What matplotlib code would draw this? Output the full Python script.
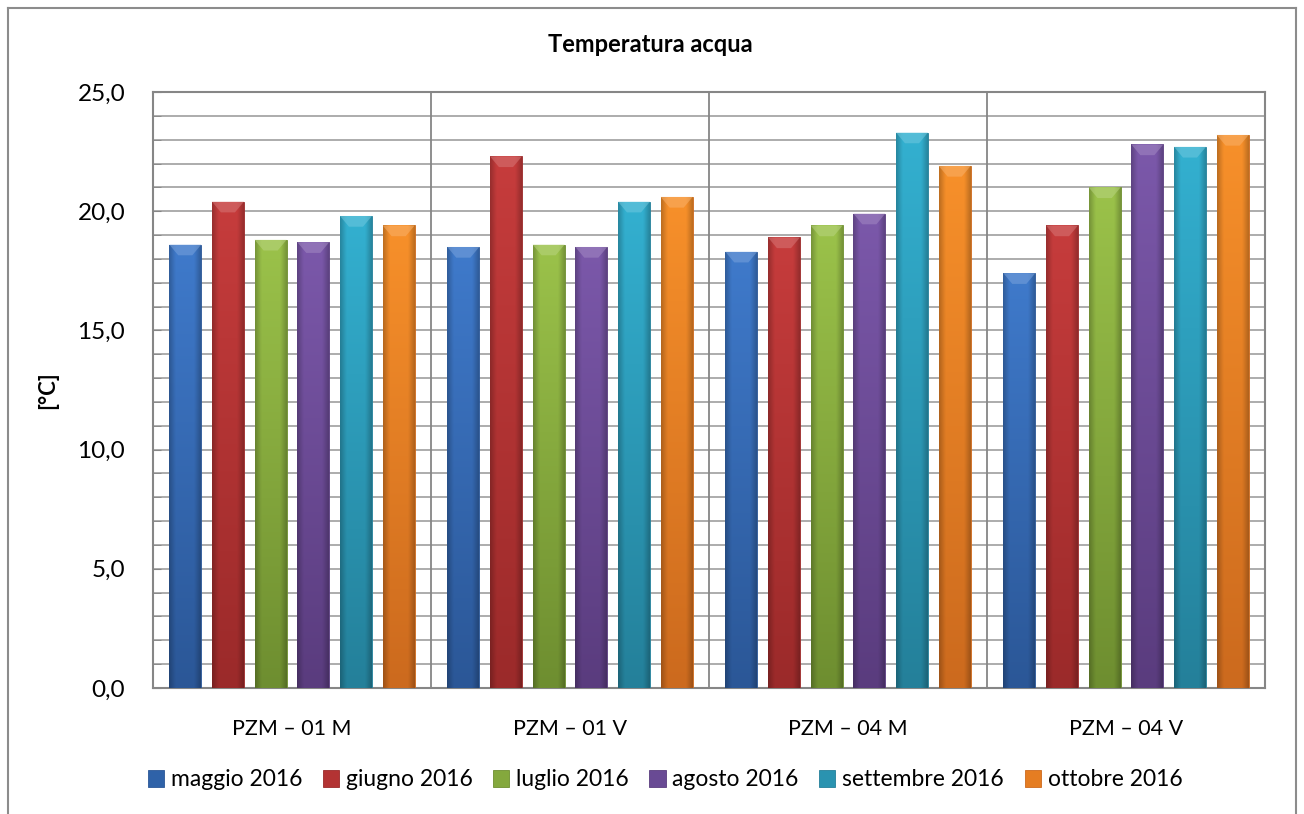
import numpy as np
import matplotlib.pyplot as plt
from matplotlib.patches import Patch, Polygon
from matplotlib.lines import Line2D
from matplotlib.ticker import MultipleLocator, FuncFormatter
from matplotlib.colors import to_rgb

plt.rcParams['font.family'] = ['Lato', 'DejaVu Sans']

# --- data ---
stations = ["PZM – 01 M", "PZM – 01 V", "PZM – 04 M", "PZM – 04 V"]
months = ["maggio 2016", "giugno 2016", "luglio 2016",
          "agosto 2016", "settembre 2016", "ottobre 2016"]

maggio = [18.6, 18.5, 18.3, 17.4]
giugno = [20.4, 22.3, 18.9, 19.4]
luglio = [18.8, 18.6, 19.4, 21.0]
agosto = [18.7, 18.5, 19.9, 22.8]
settembre = [19.8, 20.4, 23.3, 22.7]
ottobre = [19.4, 20.6, 21.9, 23.2]
series = [maggio, giugno, luglio, agosto, settembre, ottobre]

# top / bottom shades of each series for the bevelled look
top_cols = ["#3F7ACB", "#C63C3C", "#9BC24A", "#7B58AA", "#33B0D0", "#F7902A"]
bot_cols = ["#2B5797", "#9B2A2A", "#6E8E30", "#5A3C7E", "#24809A", "#CC6A1E"]
legend_cols = ["#2F62A8", "#B33333", "#84A83D", "#694A94", "#2A93B0", "#E57D22"]

GRID = "#A6A6A6"
AXIS = "#868686"

fig = plt.figure(figsize=(13.04, 8.14), dpi=100)
ax = fig.add_axes([0.1173, 0.1548, 0.8528, 0.7322])

x = np.arange(len(stations))
width = 0.115
pitch = 0.1535


def bar_image(c_top, c_bot, n=80, m=24):
    t = np.array(to_rgb(c_top))
    b = np.array(to_rgb(c_bot))
    v = np.linspace(0, 1, n)[:, None]
    col = t[None, :] * (1 - v) + b[None, :] * v
    u = np.linspace(-1, 1, m)
    edge = 1 - 0.22 * np.clip((np.abs(u) - 0.6) / 0.4, 0, 1)
    img = col[:, None, :] * edge[None, :, None]
    return np.clip(img, 0, 1)


for i, vals in enumerate(series):
    bars = ax.bar(x + (i - 2.5) * pitch, vals, width,
                  color=legend_cols[i], edgecolor=bot_cols[i], linewidth=0.6,
                  zorder=3)
    img = bar_image(top_cols[i], bot_cols[i])
    for b in bars:
        bx, bw, bh = b.get_x(), b.get_width(), b.get_height()
        im = ax.imshow(img, extent=(bx, bx + bw, 0, bh), aspect='auto',
                       origin='upper', zorder=3.5, interpolation='bilinear')
        im.set_clip_path(b)
        # light bevel on the bar top
        d = 0.45
        lt = np.array(to_rgb(top_cols[i]))
        lt = lt + (1 - lt) * 0.3
        ax.add_patch(Polygon([(bx, bh), (bx + bw, bh),
                              (bx + bw * 0.72, bh - d), (bx + bw * 0.28, bh - d)],
                             closed=True, facecolor=lt, edgecolor='none',
                             alpha=0.55, zorder=4))

ax.set_xlim(-0.5, 3.5)
ax.set_ylim(0, 25)

ax.yaxis.set_major_locator(MultipleLocator(5))
ax.yaxis.set_minor_locator(MultipleLocator(1))
ax.yaxis.set_major_formatter(FuncFormatter(lambda v, p: f"{v:.1f}".replace('.', ',')))
ax.grid(axis='y', which='both', color=GRID, linewidth=1.3, zorder=0)
ax.set_axisbelow(True)

# separators between stations
for s in x[:-1] + 0.5:
    ax.axvline(s, color=AXIS, linewidth=1.3, zorder=1)

ax.set_xticks(x)
ax.set_xticklabels(stations)
ax.tick_params(axis='x', length=0, pad=22, labelsize=15.5)
ax.tick_params(axis='y', which='major', direction='in', length=6,
               color=AXIS, pad=20, labelsize=17.5)
ax.tick_params(axis='y', which='minor', direction='in', length=6, color=AXIS)

for sp in ax.spines.values():
    sp.set_color(AXIS)
    sp.set_linewidth(1.5)

ax.set_ylabel("[°C]", fontsize=16, fontweight='bold')
ax.yaxis.set_label_coords(-0.085, 0.5)

fig.text(0.4985, 1 - 45 / 814, "Temperatura acqua", ha='center', va='center',
         fontsize=17, fontweight='bold')

handles = [Patch(facecolor=c, edgecolor=bc, linewidth=0.6)
           for c, bc in zip(legend_cols, bot_cols)]
fig.legend(handles, months, loc='center', bbox_to_anchor=(0.51, 1 - 780 / 814),
           ncol=6, frameon=False, fontsize=16.5, handlelength=0.7,
           handleheight=0.7, handletextpad=0.3, columnspacing=0.9)

# outer chart frame
for xs, ys in [((8 / 1304, 8 / 1304), (0, 1 - 8 / 814)),
               ((8 / 1304, 1296 / 1304), (1 - 8 / 814, 1 - 8 / 814)),
               ((1296 / 1304, 1296 / 1304), (1 - 8 / 814, 0))]:
    fig.add_artist(Line2D(xs, ys, transform=fig.transFigure,
                          color="#8C8C8C", linewidth=1.5))

fig.savefig("out.png", dpi=100)
